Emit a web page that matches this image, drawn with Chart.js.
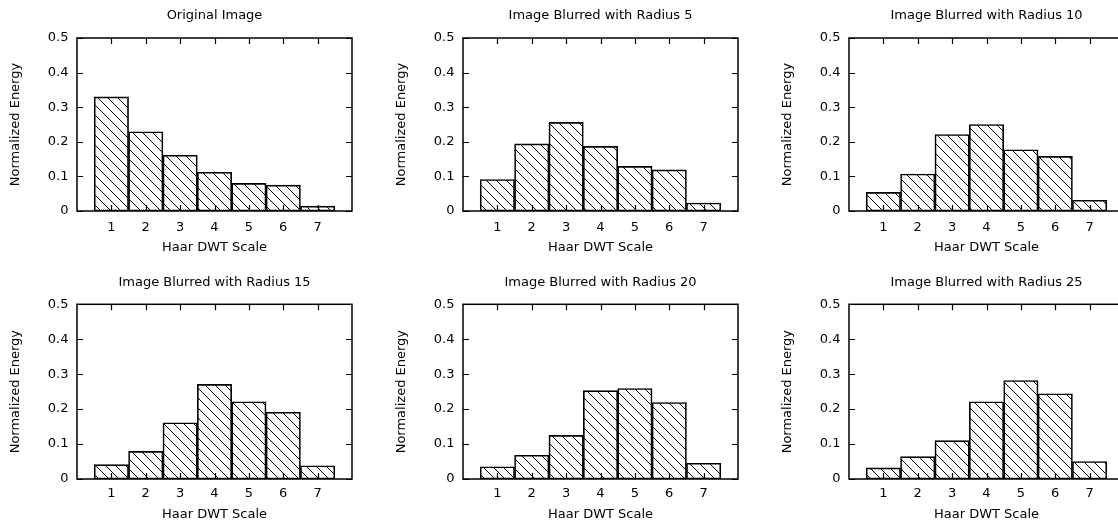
<!DOCTYPE html>
<html>
<head>
<meta charset="utf-8">
<script src="https://cdn.jsdelivr.net/npm/chart.js@4.4.1/dist/chart.umd.min.js"></script>
<style>
  html, body { margin: 0; padding: 0; background: #fff; width: 1118px; height: 521px; overflow: hidden; position: relative; }
  canvas { position: absolute; }
</style>
</head>
<body>
<script>
// ---- data ----
const scales = [1, 2, 3, 4, 5, 6, 7];
const yTicks = [0, 0.1, 0.2, 0.3, 0.4, 0.5];
const titles = [
  'Original Image',
  'Image Blurred with Radius 5',
  'Image Blurred with Radius 10',
  'Image Blurred with Radius 15',
  'Image Blurred with Radius 20',
  'Image Blurred with Radius 25'
];
const energyOriginal = [0.330, 0.229, 0.161, 0.112, 0.080, 0.075, 0.014];
const energyR5  = [0.091, 0.194, 0.256, 0.187, 0.129, 0.119, 0.023];
const energyR10 = [0.054, 0.107, 0.221, 0.250, 0.177, 0.158, 0.031];
const energyR15 = [0.041, 0.079, 0.161, 0.271, 0.221, 0.191, 0.038];
const energyR20 = [0.035, 0.068, 0.125, 0.253, 0.259, 0.219, 0.045];
const energyR25 = [0.032, 0.064, 0.110, 0.221, 0.282, 0.244, 0.050];
const allSeries = [energyOriginal, energyR5, energyR10, energyR15, energyR20, energyR25];
const xLabel = 'Haar DWT Scale';
const yLabel = 'Normalized Energy';

// ---- layout / style ----
const FONT = { family: 'DejaVu Sans', size: 13, lineHeight: 1.2, weight: 'normal' };
const colLeft = [77, 463, 849];      // chart area left (page px)
const YAXIS_W = 77;
const PLOT_W = 275;
const rows = [
  { top: 0,   height: 260, titlePad: { top: 8.2,  bottom: 14.2 }, xAxisH: 49, tickPad: 8.5, xTitlePad: 4.2 },
  { top: 260, height: 275, titlePad: { top: 14.9, bottom: 13.8 }, xAxisH: 56, tickPad: 6.5, xTitlePad: 12.2 }
];

function makeHatch() {
  const s = 10;
  const c = document.createElement('canvas');
  c.width = s; c.height = s;
  const g = c.getContext('2d');
  g.strokeStyle = '#000';
  g.lineWidth = 1;
  g.beginPath();
  for (let k = -1; k <= 1; k++) {
    g.moveTo(k * s, 0);
    g.lineTo(k * s + s, s);
  }
  g.stroke();
  return g.createPattern(c, 'repeat');
}

const frameTicks = {
  id: 'frameTicks',
  afterDatasetsDraw(chart) {
    const { ctx, chartArea: a } = chart;
    const xs = chart.scales.x, ys = chart.scales.y;
    const len = 6;
    ctx.save();
    ctx.strokeStyle = '#000';
    ctx.lineWidth = 1.2;
    ctx.beginPath();
    xs.ticks.forEach(t => {
      if (t.value <= xs.min || t.value >= xs.max) return;
      const px = Math.round(xs.getPixelForValue(t.value)) + 0.5;
      ctx.moveTo(px, a.bottom); ctx.lineTo(px, a.bottom - len);
      ctx.moveTo(px, a.top); ctx.lineTo(px, a.top + len);
    });
    ys.ticks.forEach(t => {
      const py = Math.round(ys.getPixelForValue(t.value)) + 0.5;
      ctx.moveTo(a.left, py); ctx.lineTo(a.left + len, py);
      ctx.moveTo(a.right, py); ctx.lineTo(a.right - len, py);
    });
    ctx.stroke();
    ctx.lineWidth = 1.5;
    ctx.strokeRect(a.left, a.top, a.right - a.left, a.bottom - a.top);
    ctx.restore();
  }
};

allSeries.forEach((series, i) => {
  const col = i % 3, row = rows[Math.floor(i / 3)];
  const left = colLeft[col] - YAXIS_W;
  const width = YAXIS_W + PLOT_W + 10;
  const cv = document.createElement('canvas');
  cv.width = width; cv.height = row.height;
  cv.style.left = left + 'px'; cv.style.top = row.top + 'px';
  cv.style.width = width + 'px'; cv.style.height = row.height + 'px';
  document.body.appendChild(cv);
  const hatch = makeHatch();

  new Chart(cv.getContext('2d'), {
    type: 'bar',
    data: {
      datasets: [{
        data: scales.map((s, k) => ({ x: s, y: series[k] })),
        backgroundColor: hatch,
        borderColor: '#000',
        borderWidth: 1,
        borderSkipped: false,
        barPercentage: 1,
        categoryPercentage: 1
      }]
    },
    options: {
      responsive: false,
      animation: false,
      devicePixelRatio: 1,
      layout: { padding: { left: 0, right: 10, top: 0, bottom: 0 } },
      plugins: {
        legend: { display: false },
        tooltip: { enabled: false },
        title: {
          display: true, text: titles[i], color: '#000', font: FONT,
          fullSize: false, align: 'center',
          padding: row.titlePad
        }
      },
      scales: {
        x: {
          type: 'linear', min: 0, max: 8, offset: false,
          grid: { display: false, drawTicks: false, offset: false },
          border: { display: false },
          ticks: {
            stepSize: 1, color: '#000', font: FONT, padding: row.tickPad,
            maxRotation: 0, autoSkip: false,
            callback: v => (v > 0 && v < 8 ? String(v) : '')
          },
          title: { display: true, text: xLabel, color: '#000', font: FONT, padding: { top: 0, bottom: row.xTitlePad } },
          afterFit: s => { s.height = row.xAxisH; }
        },
        y: {
          min: 0, max: 0.5,
          grid: { display: false, drawTicks: false },
          border: { display: false },
          ticks: {
            stepSize: 0.1, color: '#000', font: FONT, padding: 8.5,
            callback: v => (Math.abs(v) < 1e-9 ? '0' : Number(v).toFixed(1))
          },
          afterBuildTicks: s => { s.ticks = yTicks.map(v => ({ value: v })); },
          title: { display: true, text: yLabel, color: '#000', font: FONT, padding: { top: 8.2, bottom: 0 } },
          afterFit: s => { s.width = YAXIS_W; }
        }
      }
    },
    plugins: [frameTicks]
  });
});
</script>
</body>
</html>
